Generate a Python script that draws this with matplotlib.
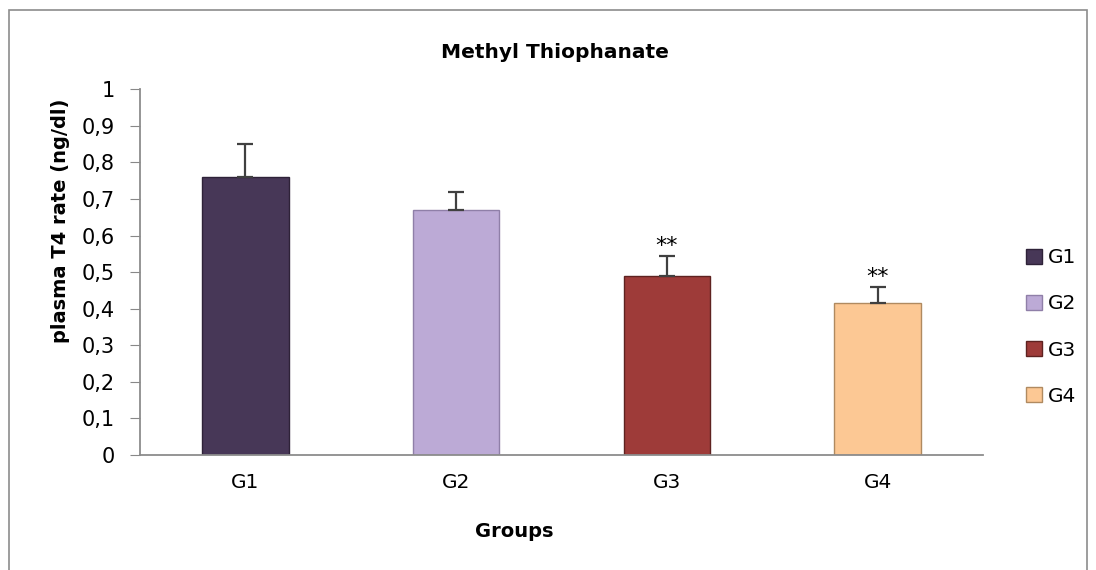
import matplotlib
matplotlib.use("Agg")
import matplotlib.pyplot as plt
from matplotlib.patches import Rectangle, Patch

groups = ["G1", "G2", "G3", "G4"]
means = [0.76, 0.67, 0.49, 0.415]
errors = [0.09, 0.05, 0.055, 0.045]
marks = ["", "", "**", "**"]
colors = ["#473757", "#bcaad6", "#9e3b39", "#fcc894"]
edges = ["#2e2238", "#8f7fa8", "#5e2220", "#b08a60"]
yticks = [0, 0.1, 0.2, 0.3, 0.4, 0.5, 0.6, 0.7, 0.8, 0.9, 1]

plt.rcParams["font.family"] = ["DejaVu Sans"]

fig = plt.figure(figsize=(10.96, 5.70), dpi=100)
ax = fig.add_axes([140 / 1096, 1 - 455 / 570, 843 / 1096, (455 - 89.3) / 570])

# outer chart frame
fig.patches.append(Rectangle((9 / 1096, -0.01), 1078 / 1096, 1 - 10 / 570 + 0.01,
                             transform=fig.transFigure, fill=False,
                             edgecolor="#8c8c8c", linewidth=1.2))

x = list(range(len(groups)))
ax.bar(x, means, width=0.41, color=colors, edgecolor=edges, linewidth=1.0, zorder=2)
ax.errorbar(x, means, yerr=[[0] * len(errors), errors], fmt="none",
            ecolor="#404040", elinewidth=1.6, capsize=6, capthick=1.6, zorder=3)

for xi, m, e, s in zip(x, means, errors, marks):
    if s:
        ax.annotate(s, (xi, m + e), xytext=(0, 7), textcoords="offset points",
                    ha="center", va="center", fontsize=16)

ax.set_xlim(-0.5, len(groups) - 0.5)
ax.set_ylim(0, 1)
ax.set_yticks(yticks)
ax.set_yticklabels([f"{v:g}".replace(".", ",") for v in yticks], fontsize=15)
ax.set_xticks(x)
ax.set_xticklabels(groups, fontsize=14.5)
ax.tick_params(axis="x", length=0, pad=13)
ax.tick_params(axis="y", length=7, color="#888888", pad=11)

for side in ["top", "right"]:
    ax.spines[side].set_visible(False)
for side in ["left", "bottom"]:
    ax.spines[side].set_color("#8c8c8c")
    ax.spines[side].set_linewidth(1.3)

ax.set_ylabel("plasma T4 rate (ng/dl)", fontsize=14, fontweight="bold")
ax.yaxis.set_label_coords(-0.083, 0.64)
ax.set_xlabel("Groups", fontsize=14, fontweight="bold")
ax.xaxis.set_label_coords(0.444, -0.183)
fig.text(555 / 1096, 1 - 52 / 570, "Methyl Thiophanate", ha="center", va="center",
         fontsize=14.5, fontweight="bold")

handles = [Patch(facecolor=c, edgecolor=e, label=g) for c, e, g in zip(colors, edges, groups)]
fig.legend(handles=handles, loc="center left", bbox_to_anchor=(1026 / 1096, 1 - 327 / 570),
           frameon=False, fontsize=14.5, handlelength=0.8, handleheight=0.8,
           handletextpad=0.3, labelspacing=1.35, borderpad=0, borderaxespad=0)

fig.savefig("out.png", dpi=100)
